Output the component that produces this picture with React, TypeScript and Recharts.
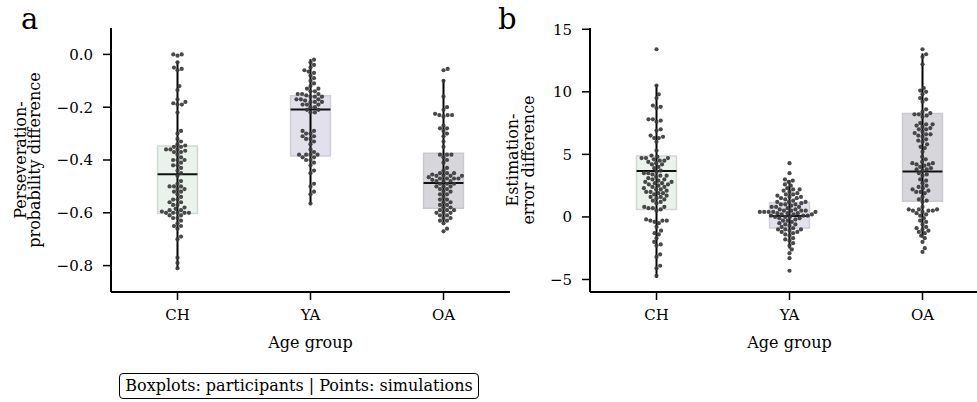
import { ComposedChart, Scatter, XAxis, YAxis, ReferenceArea, ReferenceLine } from 'recharts';

const groups = ['CH', 'YA', 'OA'];
const boxFills = ['#e9f3ec', '#e1e0eb', '#d7d6db'];
const boxEdges = ['#d3d8d4', '#cfcfd8', '#cacace'];

// panel a: perseveration-probability difference (simulations)
const persevCH = [
  0.0, 0.0, -0.005, -0.03, -0.05, -0.055, -0.06, -0.12, -0.135, -0.17, -0.18, -0.185, -0.19, -0.19,
  -0.22, -0.29, -0.3, -0.32, -0.33, -0.34, -0.345, -0.35, -0.35, -0.36, -0.36, -0.36, -0.365, -0.37,
  -0.37, -0.38, -0.39, -0.4, -0.4, -0.4, -0.41, -0.42, -0.42, -0.43, -0.44, -0.45, -0.46, -0.48,
  -0.49, -0.5, -0.5, -0.5, -0.51, -0.51, -0.52, -0.52, -0.53, -0.54, -0.55, -0.55, -0.56, -0.56,
  -0.57, -0.57, -0.58, -0.585, -0.59, -0.59, -0.595, -0.6, -0.6, -0.6, -0.6, -0.6, -0.61, -0.61,
  -0.62, -0.62, -0.63, -0.64, -0.65, -0.65, -0.66, -0.69, -0.7, -0.77, -0.79, -0.81,
];
const persevYA = [
  -0.02, -0.03, -0.04, -0.05, -0.06, -0.065, -0.07, -0.08, -0.09, -0.1, -0.11, -0.12, -0.13, -0.13,
  -0.14, -0.14, -0.15, -0.15, -0.15, -0.155, -0.16, -0.16, -0.16, -0.17, -0.17, -0.17, -0.175, -0.18,
  -0.18, -0.18, -0.19, -0.19, -0.19, -0.2, -0.2, -0.21, -0.21, -0.22, -0.22, -0.29, -0.29, -0.3,
  -0.3, -0.31, -0.31, -0.32, -0.32, -0.33, -0.34, -0.36, -0.37, -0.38, -0.38, -0.38, -0.38, -0.39,
  -0.39, -0.4, -0.4, -0.41, -0.42, -0.44, -0.45, -0.49, -0.5, -0.52, -0.53, -0.565,
];
const persevOA = [
  -0.055, -0.06, -0.1, -0.16, -0.2, -0.21, -0.225, -0.23, -0.23, -0.23, -0.235, -0.27, -0.28, -0.28,
  -0.29, -0.3, -0.31, -0.33, -0.35, -0.38, -0.38, -0.38, -0.39, -0.4, -0.41, -0.43, -0.44, -0.45,
  -0.45, -0.45, -0.455, -0.46, -0.46, -0.46, -0.46, -0.465, -0.47, -0.47, -0.47, -0.47, -0.475,
  -0.48, -0.48, -0.48, -0.49, -0.49, -0.49, -0.5, -0.5, -0.5, -0.51, -0.51, -0.52, -0.52, -0.53,
  -0.53, -0.54, -0.55, -0.55, -0.56, -0.56, -0.57, -0.57, -0.58, -0.58, -0.59, -0.59, -0.59, -0.6,
  -0.6, -0.6, -0.61, -0.61, -0.62, -0.62, -0.63, -0.63, -0.64, -0.66, -0.67,
];

// panel b: estimation-error difference (simulations)
const estimCH = [
  13.4, 10.5, 9.8, 9.5, 8.9, 8.8, 8.7, 7.8, 7.8, 7.7, 7.6, 7.0, 6.9, 6.5, 6.4, 6.3, 6.3, 6.0, 5.3, 4.9,
  4.8, 4.7, 4.7, 4.7, 4.6, 4.5, 4.5, 4.4, 4.3, 4.2, 4.2, 4.0, 3.9, 3.7, 3.6, 3.5, 3.5, 3.4, 3.3, 3.3,
  3.2, 3.1, 3.0, 3.0, 2.9, 2.8, 2.8, 2.7, 2.7, 2.6, 2.6, 2.5, 2.4, 2.4, 2.3, 2.2, 2.2, 2.1, 2.0, 2.0,
  1.9, 1.9, 1.8, 1.7, 1.6, 1.6, 1.5, 1.4, 1.3, 1.2, 1.1, 0.8, 0.8, 0.7, 0.7, 0.6, 0.5, -0.2, -0.3,
  -0.3, -0.3, -0.4, -0.5, -0.8, -1.1, -1.3, -1.4, -1.7, -2.0, -2.2, -2.3, -3.0, -3.2, -3.9, -4.1, -4.7,
];
const estimYA = [
  4.3, 3.5, 3.0, 2.9, 2.8, 2.6, 2.5, 2.3, 2.2, 2.2, 2.1, 2.0, 1.9, 1.8, 1.8, 1.7, 1.6, 1.6, 1.5, 1.5,
  1.4, 1.3, 1.2, 1.2, 1.2, 1.1, 1.0, 1.0, 1.0, 0.9, 0.8, 0.8, 0.8, 0.7, 0.6, 0.6, 0.5, 0.5, 0.5, 0.5,
  0.4, 0.4, 0.4, 0.4, 0.4, 0.3, 0.3, 0.3, 0.2, 0.2, 0.2, 0.1, 0.1, 0.1, 0.0, 0.0, 0.0, -0.1, -0.1,
  -0.2, -0.3, -0.3, -0.4, -0.5, -0.6, -0.6, -0.7, -0.8, -0.9, -1.0, -1.0, -1.0, -1.1, -1.2, -1.2,
  -1.3, -1.4, -1.5, -1.7, -1.8, -1.9, -2.1, -2.3, -2.6, -2.9, -3.3, -4.3,
];
const estimOA = [
  13.4, 13.0, 12.8, 12.2, 10.3, 10.1, 10.0, 9.8, 9.5, 9.4, 9.2, 8.6, 8.4, 8.3, 8.2, 8.2, 8.1, 8.0, 7.5,
  7.4, 7.4, 7.3, 7.2, 7.1, 7.0, 7.0, 6.8, 6.7, 6.6, 6.6, 6.5, 6.4, 6.2, 6.1, 6.0, 5.8, 5.6, 5.5, 5.2,
  4.8, 4.6, 4.4, 4.3, 4.3, 4.2, 4.2, 4.1, 4.0, 3.9, 3.8, 3.8, 3.7, 3.5, 3.4, 3.3, 3.0, 2.9, 2.7, 2.5,
  2.4, 2.3, 2.2, 2.1, 2.0, 2.0, 1.9, 1.6, 1.4, 1.3, 1.2, 0.8, 0.6, 0.6, 0.6, 0.5, 0.5, 0.5, 0.4, 0.3,
  0.2, 0.1, -0.1, -0.3, -0.4, -0.6, -0.8, -0.9, -1.0, -1.1, -1.2, -1.3, -1.5, -1.7, -2.0, -2.5, -2.8,
];

// participant boxplots: [whisker low, q1, median, q3, whisker high]
const persevBoxes = [
  [-0.81, -0.603, -0.454, -0.347, -0.025],
  [-0.565, -0.385, -0.209, -0.157, -0.018],
  [-0.636, -0.583, -0.487, -0.374, -0.097],
];
const estimBoxes = [
  [-4.88, 0.59, 3.68, 4.86, 10.54],
  [-2.53, -0.88, 0.08, 1.15, 2.94],
  [-1.65, 1.26, 3.63, 8.27, 13.07],
];

const FONT = 'DejaVu Serif';
const PLOT_W = 399;
const PLOT_H = 264;
const BOX_HALF = 0.15;

// seaborn-like swarm: place each point as close to the centre as it fits
function swarm(values: number[], center: number, yPerPx: number) {
  const d = 4.4;
  const pxPerX = PLOT_W / 3;
  const placed: { px: number; py: number }[] = [];
  return [...values]
    .sort((a, b) => a - b)
    .map((v) => {
      const py = v / yPerPx;
      const near = placed.filter((p) => Math.abs(p.py - py) < d);
      const cands = [0];
      near.forEach((p) => {
        const dx = Math.sqrt(d * d - (p.py - py) ** 2);
        cands.push(p.px + dx, p.px - dx);
      });
      cands.sort((a, b) => Math.abs(a) - Math.abs(b));
      const px =
        cands.find((c) => near.every((p) => (p.px - c) ** 2 + (p.py - py) ** 2 >= d * d - 1e-6)) ?? 0;
      placed.push({ px, py });
      return { x: center + px / pxPerX, y: v };
    });
}

const Dot = (props: any) => <circle cx={props.cx} cy={props.cy} r={2.1} fill="#3a3a3a" fillOpacity={0.92} />;

const tickStyle = { fill: '#000', fontSize: 15, fontFamily: FONT };
const minus = (s: string) => s.replace('-', '\u2212');

interface PanelProps {
  series: number[][];
  boxes: number[][];
  domain: [number, number];
  ticks: number[];
  fmt: (v: number) => string;
  left: number;
  width: number;
  rightMargin: number;
}

function Panel({ series, boxes, domain, ticks, fmt, left, width, rightMargin }: PanelProps) {
  const yPerPx = (domain[1] - domain[0]) / PLOT_H;
  return (
    <div style={{ position: 'absolute', left, top: 0 }}>
      <ComposedChart width={width} height={360} margin={{ top: 28, right: rightMargin, bottom: 0, left: 0 }}>
        <XAxis
          type="number"
          dataKey="x"
          domain={[-0.5, 2.5]}
          ticks={[0, 1, 2]}
          tickFormatter={(i: number) => groups[i]}
          allowDataOverflow
          height={68}
          tickSize={8}
          tickMargin={9}
          axisLine={{ stroke: '#000', strokeWidth: 2 }}
          tickLine={{ stroke: '#000', strokeWidth: 1.5 }}
          tick={tickStyle}
          label={{ value: 'Age group', position: 'insideBottom', offset: 12, fill: '#000', fontSize: 16, fontFamily: FONT }}
        />
        <YAxis
          type="number"
          dataKey="y"
          domain={domain}
          ticks={ticks}
          allowDataOverflow
          width={left === 0 ? 111 : 110}
          tickSize={8}
          tickMargin={10}
          tickFormatter={fmt}
          axisLine={{ stroke: '#000', strokeWidth: 2 }}
          tickLine={{ stroke: '#000', strokeWidth: 1.5 }}
          tick={tickStyle}
        />
        {boxes.map((b, i) => (
          <ReferenceArea
            key={'box' + i}
            x1={i - BOX_HALF}
            x2={i + BOX_HALF}
            y1={b[1]}
            y2={b[3]}
            fill={boxFills[i]}
            fillOpacity={1}
            stroke={boxEdges[i]}
            strokeWidth={1.5}
          />
        ))}
        {series.map((vals, i) => (
          <Scatter key={'pts' + i} data={swarm(vals, i, yPerPx)} dataKey="y" shape={Dot} isAnimationActive={false} />
        ))}
        {boxes.map((b, i) => (
          <ReferenceLine
            key={'wh' + i}
            segment={[{ x: i, y: b[0] }, { x: i, y: b[4] }]}
            stroke="#000"
            strokeWidth={2}
          />
        ))}
        {boxes.map((b, i) => (
          <ReferenceLine
            key={'med' + i}
            segment={[{ x: i - BOX_HALF, y: b[2] }, { x: i + BOX_HALF, y: b[2] }]}
            stroke="#111"
            strokeWidth={2}
          />
        ))}
      </ComposedChart>
    </div>
  );
}

export default function App() {
  return (
    <div style={{ position: 'absolute', left: 0, top: 0, width: 977, height: 402, overflow: 'hidden', background: '#fff' }}>
      <Panel
        series={[persevCH, persevYA, persevOA]}
        boxes={persevBoxes}
        domain={[-0.9, 0.1]}
        ticks={[-0.8, -0.6, -0.4, -0.2, 0]}
        fmt={(v) => minus(v.toFixed(1))}
        left={0}
        width={515}
        rightMargin={5}
      />
      <Panel
        series={[estimCH, estimYA, estimOA]}
        boxes={estimBoxes}
        domain={[-6, 15.1]}
        ticks={[-5, 0, 5, 10, 15]}
        fmt={(v) => minus(String(v))}
        left={480}
        width={520}
        rightMargin={11}
      />
      <svg width={977} height={402} style={{ position: 'absolute', left: 0, top: 0, pointerEvents: 'none' }}>
        <g fontFamily={FONT} fill="#000">
          <text x={21} y={29} fontSize={29}>a</text>
          <text x={498} y={29} fontSize={29}>b</text>
          <text transform="translate(26,160) rotate(-90)" textAnchor="middle" fontSize={16}>Perseveration-</text>
          <text transform="translate(40,160) rotate(-90)" textAnchor="middle" fontSize={16}>probability difference</text>
          <text transform="translate(518,160) rotate(-90)" textAnchor="middle" fontSize={16}>Estimation-</text>
          <text transform="translate(534,160) rotate(-90)" textAnchor="middle" fontSize={16}>error difference</text>
        </g>
      </svg>
      <div
        style={{
          position: 'absolute',
          left: 119,
          top: 373,
          width: 358,
          height: 24,
          border: '1.5px solid #000',
          borderRadius: 4,
          fontFamily: FONT,
          fontSize: 16,
          lineHeight: '24px',
          textAlign: 'center',
          whiteSpace: 'nowrap',
        }}
      >
        Boxplots: participants | Points: simulations
      </div>
    </div>
  );
}
